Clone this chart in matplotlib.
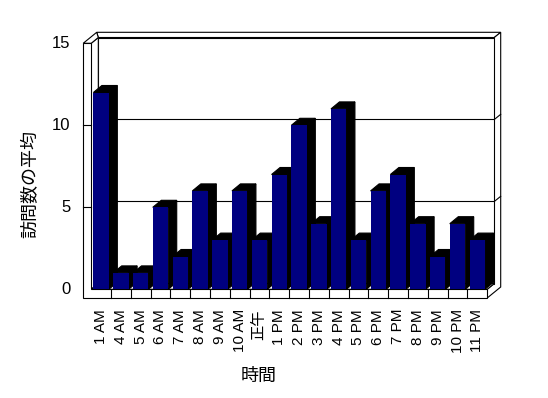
import matplotlib
matplotlib.use('Agg')
import matplotlib.pyplot as plt

hours = ['1 AM', '4 AM', '5 AM', '6 AM', '7 AM', '8 AM', '9 AM', '10 AM', '正午',
         '1 PM', '2 PM', '3 PM', '4 PM', '5 PM', '6 PM', '7 PM', '8 PM', '9 PM',
         '10 PM', '11 PM']
visits = [12, 1, 1, 5, 2, 6, 3, 6, 3, 7, 10, 4, 11, 3, 6, 7, 4, 2, 4, 3]
yticks = [0, 5, 10, 15]

plt.rcParams['font.family'] = ['Liberation Sans', 'Noto Sans CJK JP']

# pixels per category / per unit, used to size the fake 3d box
px_x = 19.8
px_y = 16.4


def off(dx, dy):
    return dx / px_x, dy / px_y


fig = plt.figure(figsize=(5.48, 3.98), dpi=100)
ax = fig.add_axes([0, 0, 1, 1])
ax.set_xlim(-101.1 / px_x, (548 - 101.1) / px_x)
ax.set_ylim(-(398 - 289.3) / px_y, 289.3 / px_y)
ax.axis('off')

n = len(hours)
left, right = -0.5, n - 0.5
top = yticks[-1]
wall_w = 8 / px_x
floor_h = 8.7 / px_y
b1x, b1y = off(7.1, 5.8)    # front face of back wall
b2x, b2y = off(13.5, 11)    # back edge of the walls
dx, dy = off(8.5, 7)        # bar depth
lw = 0.8


def face(xs, ys, z, fc='white'):
    ax.fill(xs, ys, facecolor=fc, edgecolor='black', lw=lw, zorder=z)


# back wall
face([left + b1x, right + b1x, right + b2x, left - wall_w + b2x],
     [top + b1y, top + b1y, top + b2y, top + b2y], 1)
face([right + b1x, right + b2x, right + b2x, right, right, right + b1x],
     [top + b1y, top + b2y, -floor_h + b2y, -floor_h, 0, b1y], 1)
face([left + b1x, right + b1x, right + b1x, left + b1x],
     [b1y, b1y, top + b1y, top + b1y], 2)
for yt in yticks[1:-1]:
    ax.plot([left + b1x, right + b1x, right + b2x],
            [yt + b1y, yt + b1y, yt + b2y], color='black', lw=lw, zorder=3)

# left wall and floor
face([left, left, left + b1x, left + b1x], [0, top, top + b1y, b1y], 3)
face([left - wall_w, left, left + b1x, left - wall_w + b2x],
     [top, top, top + b1y, top + b2y], 3)
face([left, right, right + b1x, left + b1x], [0, 0, b1y, b1y], 4)
face([left - wall_w, left - wall_w, left, left, right, right],
     [-floor_h, top, top, 0, 0, -floor_h], 5)
for k in range(1, n):
    ax.plot([left + k, left + k], [-floor_h, 0], color='black', lw=lw, zorder=5)
for yt in yticks[1:-1]:
    ax.plot([left - wall_w, left], [yt, yt], color='black', lw=lw, zorder=5)

# bars
bw = 0.78
bars = ax.bar(range(n), visits, width=bw, color='#000080', linewidth=0)
for i, (b, v) in enumerate(zip(bars, visits)):
    x0, x1 = i - bw / 2, i + bw / 2
    face([x0, x1, x1 + dx, x0 + dx], [v, v, v + dy, v + dy], 10 + 2 * i, 'black')
    face([x1, x1, x1 + dx, x1 + dx], [0, v, v + dy, dy], 10 + 2 * i, 'black')
    b.set_zorder(11 + 2 * i)

# labels
for yt in yticks:
    ax.text(left - wall_w - 13 / px_x, yt, str(yt), ha='right', va='center',
            fontsize=12)
for i, h in enumerate(hours):
    ax.text(i, -floor_h - 11 / px_y, h, rotation=90, ha='center', va='top',
            fontsize=11)

fig.text(259 / 548, 1 - 376 / 398, '時間', ha='center', va='center', fontsize=13)
fig.text(31 / 548, 1 - 183.5 / 398, '訪問数の平均', rotation=90,
         ha='center', va='center', fontsize=13)

fig.savefig('out.png', dpi=100, facecolor='white')
